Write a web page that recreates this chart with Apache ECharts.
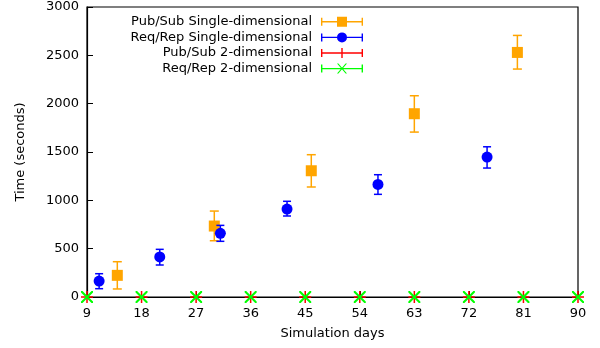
<!DOCTYPE html>
<html>
<head>
<meta charset="utf-8">
<script src="https://cdn.jsdelivr.net/npm/echarts@6/dist/echarts.min.js"></script>
<style>
  html, body { margin: 0; padding: 0; background: #fff; }
  #chart { width: 600px; height: 348px; }
</style>
</head>
<body>
<div id="chart"></div>
<script>
// x ticks (simulation days)
const dayTicks = [9, 18, 27, 36, 45, 54, 63, 72, 81, 90];

// Pub/Sub single-dimensional
const pubSubDays = [14, 30, 46, 63, 80];
const pubSubTime = [224, 734, 1306, 1896, 2530];
const pubSubLow  = [83, 582, 1138, 1706, 2358];
const pubSubHigh = [365, 889, 1472, 2082, 2706];

// Req/Rep single-dimensional
const reqRepDays = [11, 21, 31, 42, 57, 75];
const reqRepTime = [165, 414, 659, 910, 1165, 1448];
const reqRepLow  = [86, 331, 576, 838, 1062, 1334];
const reqRepHigh = [241, 493, 741, 990, 1265, 1554];

// 2-dimensional runs (all at zero)
const pubSub2dTime = [0, 0, 0, 0, 0, 0, 0, 0, 0, 0];
const reqRep2dTime = [0, 0, 0, 0, 0, 0, 0, 0, 0, 0];

const seriesNames = [
  'Pub/Sub Single-dimensional',
  'Req/Rep Single-dimensional',
  'Pub/Sub 2-dimensional',
  'Req/Rep 2-dimensional'
];

const FONT = 'DejaVu Sans';

// legend icons: error bar line with caps + marker (all subpaths clockwise)
const capsAndLine = 'M0,2 L1.4,2 L1.4,10 L0,10 Z M40.6,2 L42,2 L42,10 L40.6,10 Z M1,5.3 L41,5.3 L41,6.7 L1,6.7 Z ';
const iconSquare = 'path://' + capsAndLine + 'M16,1 L26,1 L26,11 L16,11 Z';
const iconCircle = 'path://' + capsAndLine + 'M16,6 A5,5 0 1,1 26,6 A5,5 0 1,1 16,6 Z';
const iconPlus = 'path://' + capsAndLine + 'M20.3,1 L21.7,1 L21.7,11 L20.3,11 Z';
const iconCross = 'path://' + capsAndLine +
  'M16,1 L17.4,1 L26,11 L24.6,11 Z M24.6,1 L26,1 L17.4,11 L16,11 Z';

const plusSymbol = 'path://M5.25,0 L6.75,0 L6.75,12 L5.25,12 Z M0,5.25 L12,5.25 L12,6.75 L0,6.75 Z';
const crossSymbol = 'path://M0,0 L1.5,0 L12,10.5 L12,12 L10.5,12 L0,1.5 Z M12,0 L12,1.5 L1.5,12 L0,12 L0,10.5 L10.5,0 Z';

function zip() {
  const arrs = Array.prototype.slice.call(arguments);
  return arrs[0].map(function (_, i) { return arrs.map(function (a) { return a[i]; }); });
}

function errorBar(capHalf) {
  return function (params, api) {
    const x = api.value(0);
    const lo = api.coord([x, api.value(1)]);
    const hi = api.coord([x, api.value(2)]);
    const style = { stroke: api.visual('color'), lineWidth: 1.5 };
    return {
      type: 'group',
      children: [
        { type: 'line', shape: { x1: lo[0], y1: lo[1], x2: hi[0], y2: hi[1] }, style: style },
        { type: 'line', shape: { x1: lo[0] - capHalf, y1: lo[1], x2: lo[0] + capHalf, y2: lo[1] }, style: style },
        { type: 'line', shape: { x1: hi[0] - capHalf, y1: hi[1], x2: hi[0] + capHalf, y2: hi[1] }, style: style }
      ]
    };
  };
}

const chart = echarts.init(document.getElementById('chart'));

const option = {
  animation: false,
  backgroundColor: '#fff',
  textStyle: { fontFamily: FONT },
  grid: {
    left: 87, right: 22, top: 7, bottom: 51,
    show: true, borderColor: '#000', borderWidth: 1.2
  },
  legend: {
    orient: 'vertical',
    align: 'right',
    right: 237,
    top: 14,
    padding: 0,
    itemWidth: 42,
    itemHeight: 12,
    itemGap: 0,
    itemStyle: { opacity: 1 },
    lineStyle: { opacity: 1 },
    textStyle: { fontFamily: FONT, fontSize: 13, lineHeight: 15.6, color: '#000', padding: [0, 4, 0, 0] },
    data: [
      { name: seriesNames[0], icon: iconSquare },
      { name: seriesNames[1], icon: iconCircle },
      { name: seriesNames[2], icon: iconPlus },
      { name: seriesNames[3], icon: iconCross }
    ]
  },
  xAxis: {
    type: 'value',
    min: 9, max: 90, interval: 9,
    name: 'Simulation days',
    nameLocation: 'middle',
    nameGap: 30,
    nameTextStyle: { fontFamily: FONT, fontSize: 13, color: '#000' },
    axisLine: { lineStyle: { color: '#000', width: 1.2 } },
    axisTick: { inside: true, length: 6, lineStyle: { color: '#000' } },
    axisLabel: { fontFamily: FONT, fontSize: 13, color: '#000', margin: 10 },
    splitLine: { show: false }
  },
  yAxis: {
    type: 'value',
    min: 0, max: 3000, interval: 500,
    name: 'Time (seconds)',
    nameLocation: 'middle',
    nameGap: 60,
    nameTextStyle: { fontFamily: FONT, fontSize: 13, color: '#000' },
    axisLine: { show: true, lineStyle: { color: '#000', width: 1.2 } },
    axisTick: { show: true, inside: true, length: 6, lineStyle: { color: '#000' } },
    axisLabel: {
      fontFamily: FONT, fontSize: 13, color: '#000', margin: 8,
      formatter: function (v) { return String(v); }
    },
    splitLine: { show: false }
  },
  series: [
    {
      name: seriesNames[0], type: 'custom',
      itemStyle: { color: '#FFA500' },
      renderItem: errorBar(4.5),
      encode: { x: 0, y: [1, 2] },
      data: zip(pubSubDays, pubSubLow, pubSubHigh),
      z: 2
    },
    {
      name: seriesNames[0], type: 'scatter',
      symbol: 'rect', symbolSize: 11,
      itemStyle: { color: '#FFA500', opacity: 1 },
      data: zip(pubSubDays, pubSubTime),
      clip: false, z: 3
    },
    {
      name: seriesNames[1], type: 'custom',
      itemStyle: { color: '#0000FF' },
      renderItem: errorBar(4),
      encode: { x: 0, y: [1, 2] },
      data: zip(reqRepDays, reqRepLow, reqRepHigh),
      z: 4
    },
    {
      name: seriesNames[1], type: 'scatter',
      symbol: 'circle', symbolSize: 11,
      itemStyle: { color: '#0000FF', opacity: 1 },
      data: zip(reqRepDays, reqRepTime),
      clip: false, z: 5
    },
    {
      name: seriesNames[2], type: 'scatter',
      symbol: plusSymbol, symbolSize: 12,
      itemStyle: { color: '#FF0000', opacity: 1 },
      data: zip(dayTicks, pubSub2dTime),
      clip: false, z: 6
    },
    {
      name: seriesNames[3], type: 'scatter',
      symbol: crossSymbol, symbolSize: 12,
      itemStyle: { color: '#00FF00', opacity: 1 },
      data: zip(dayTicks, reqRep2dTime),
      clip: false, z: 7
    }
  ]
};

chart.setOption(option);
</script>
</body>
</html>
